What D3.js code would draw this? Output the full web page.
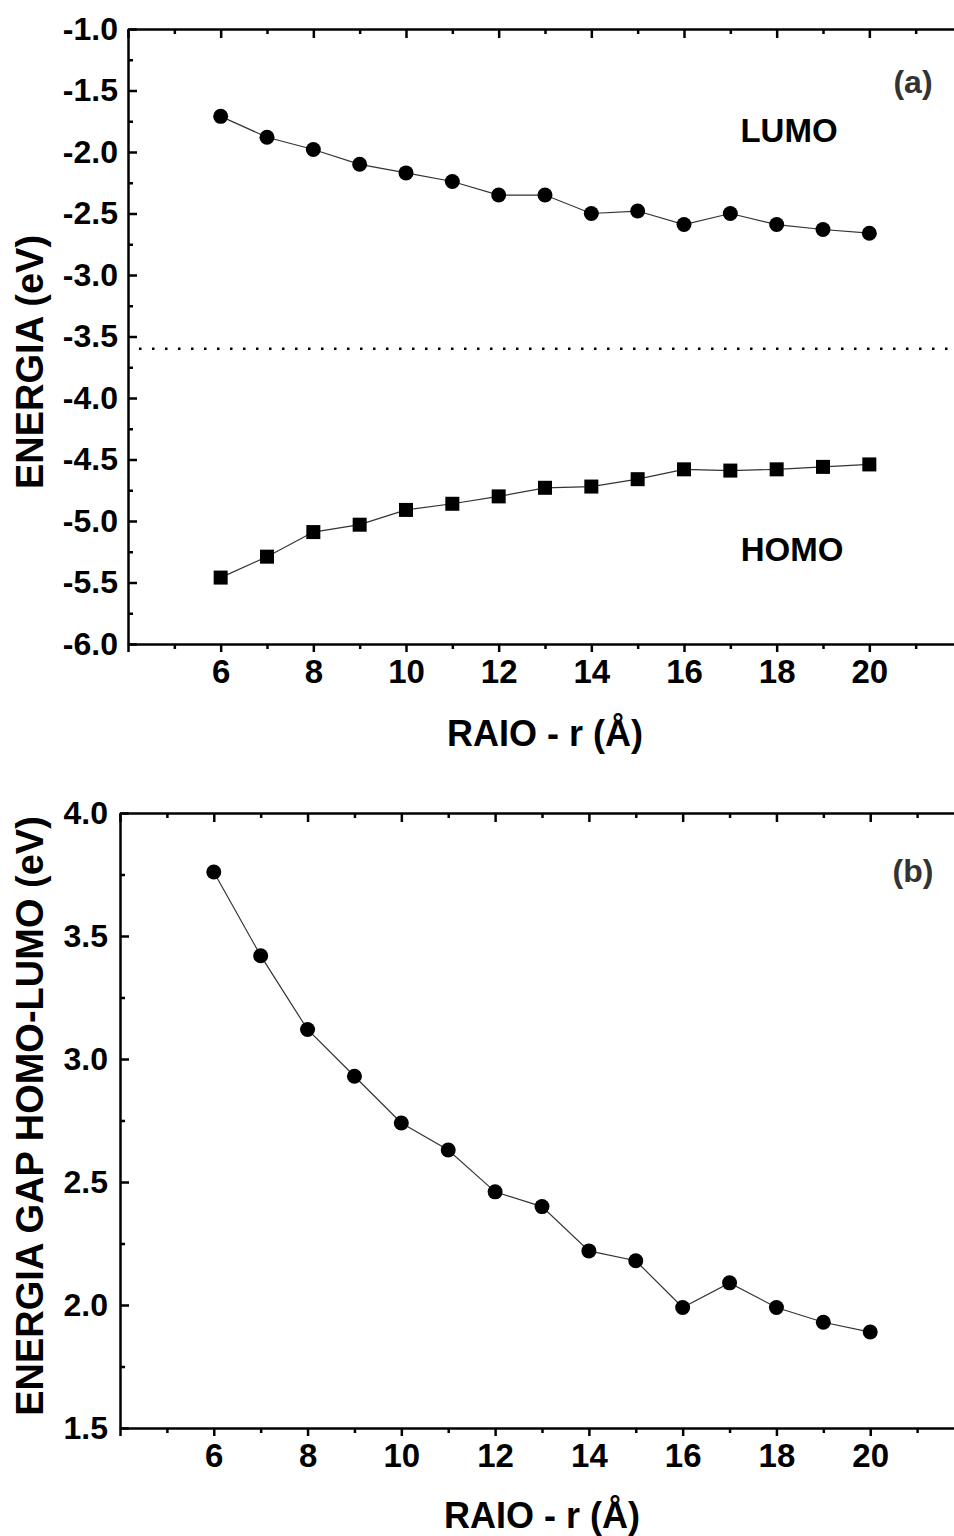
<!DOCTYPE html>
<html>
<head>
<meta charset="utf-8">
<script src="https://cdn.jsdelivr.net/npm/d3@7/dist/d3.min.js"></script>
<style>
  body { margin: 0; background: #fff; }
  svg { display: block; font-family: "Liberation Sans", Arial, sans-serif; font-weight: bold; }
  .axis path, .axis line { stroke: #000; stroke-width: 2.5; }
  .axis text { fill: #000; font-family: "Liberation Sans", Arial, sans-serif; font-weight: bold; }
</style>
</head>
<body>
<svg id="chart" width="954" height="1536"></svg>
<script>
// raio (Angstrom)
var radius = [6, 7, 8, 9, 10, 11, 12, 13, 14, 15, 16, 17, 18, 19, 20];
var lumo = [-1.71, -1.88, -1.98, -2.10, -2.17, -2.24, -2.35, -2.35, -2.50, -2.48, -2.59, -2.50, -2.59, -2.63, -2.66];
var homo = [-5.46, -5.29, -5.09, -5.03, -4.91, -4.86, -4.80, -4.73, -4.72, -4.66, -4.58, -4.59, -4.58, -4.56, -4.54];
var gap = [3.76, 3.42, 3.12, 2.93, 2.74, 2.63, 2.46, 2.40, 2.22, 2.18, 1.99, 2.09, 1.99, 1.93, 1.89];
var fermi = -3.6;

var xMajor = [4, 6, 8, 10, 12, 14, 16, 18, 20, 22];
var xMinor = [5, 7, 9, 11, 13, 15, 17, 19, 21];
var xLabels = [6, 8, 10, 12, 14, 16, 18, 20];
var yTicksA = [-1.0, -1.5, -2.0, -2.5, -3.0, -3.5, -4.0, -4.5, -5.0, -5.5, -6.0];
var yMinorA = [-1.25, -1.75, -2.25, -2.75, -3.25, -3.75, -4.25, -4.75, -5.25, -5.75];
var yTicksB = [1.5, 2.0, 2.5, 3.0, 3.5, 4.0];
var yMinorB = [1.75, 2.25, 2.75, 3.25, 3.75];

var svg = d3.select("#chart");

function panel(opt) {
  var x = d3.scaleLinear().domain([4, 22]).range([opt.left, opt.right]);
  var y = d3.scaleLinear().domain(opt.yDomain).range([opt.bottom, opt.top]);
  var g = svg.append("g");

  // bottom axis, outward ticks
  g.append("g").attr("class", "axis")
    .attr("transform", "translate(0," + opt.bottom + ")")
    .call(d3.axisBottom(x).tickValues(xMajor).tickSizeInner(8).tickSizeOuter(0).tickPadding(8)
      .tickFormat(function(d) { return xLabels.indexOf(d) >= 0 ? d : ""; }))
    .selectAll("text").attr("font-size", "33px");
  g.append("g").attr("class", "axis")
    .attr("transform", "translate(0," + opt.bottom + ")")
    .call(d3.axisBottom(x).tickValues(xMinor).tickSizeInner(5).tickSizeOuter(0).tickFormat(""))
    .select(".domain").remove();

  // top axis, inward ticks
  g.append("g").attr("class", "axis")
    .attr("transform", "translate(0," + opt.top + ")")
    .call(d3.axisTop(x).tickValues(xMajor).tickSizeInner(-9).tickSizeOuter(0).tickFormat(""));
  g.append("g").attr("class", "axis")
    .attr("transform", "translate(0," + opt.top + ")")
    .call(d3.axisTop(x).tickValues(xMinor).tickSizeInner(-5).tickSizeOuter(0).tickFormat(""))
    .select(".domain").remove();

  // left axis, inward ticks
  g.append("g").attr("class", "axis")
    .attr("transform", "translate(" + opt.left + ",0)")
    .call(d3.axisLeft(y).tickValues(opt.yTicks).tickSizeInner(-9).tickSizeOuter(0).tickPadding(opt.pad)
      .tickFormat(d3.format(".1f")))
    .selectAll("text").attr("font-size", "32px");
  g.append("g").attr("class", "axis")
    .attr("transform", "translate(" + opt.left + ",0)")
    .call(d3.axisLeft(y).tickValues(opt.yMinor).tickSizeInner(-5).tickSizeOuter(0).tickFormat(""))
    .select(".domain").remove();

  g.selectAll(".axis text").text(function() { return this.textContent.replace("\u2212", "-"); });

  // titles
  g.append("text")
    .attr("transform", "translate(43," + opt.yTitleY + ") rotate(-90)")
    .attr("text-anchor", "middle")
    .attr("font-size", "38px")
    .text(opt.yTitle);
  g.append("text")
    .attr("x", (opt.left + opt.right) / 2).attr("y", opt.xTitleY)
    .attr("text-anchor", "middle")
    .attr("font-size", "36px")
    .text("RAIO - r (\u00C5)");
  g.append("text")
    .attr("x", 913).attr("y", opt.tagY)
    .attr("text-anchor", "middle")
    .attr("font-size", "32px")
    .attr("fill", "#333")
    .text(opt.tag);

  return { x: x, y: y, g: g };
}

function series(p, values, shape) {
  var pts = radius.map(function(r, i) { return [r, values[i]]; });
  p.g.append("path")
    .datum(pts)
    .attr("fill", "none")
    .attr("stroke", "#333")
    .attr("stroke-width", 1.2)
    .attr("d", d3.line().x(function(d) { return p.x(d[0]); }).y(function(d) { return p.y(d[1]); }));
  if (shape == "circle") {
    p.g.selectAll(null).data(pts).enter().append("circle")
      .attr("cx", function(d) { return p.x(d[0]); })
      .attr("cy", function(d) { return p.y(d[1]); })
      .attr("r", 7.5)
      .attr("fill", "#000");
  } else {
    p.g.selectAll(null).data(pts).enter().append("rect")
      .attr("x", function(d) { return p.x(d[0]) - 7; })
      .attr("y", function(d) { return p.y(d[1]) - 7; })
      .attr("width", 14).attr("height", 14)
      .attr("fill", "#000");
  }
}

// (a) HOMO / LUMO
var pa = panel({
  left: 128, right: 962, top: 29, bottom: 644,
  yDomain: [-6, -1], yTicks: yTicksA, yMinor: yMinorA, pad: 10,
  yTitle: "ENERGIA (eV)", yTitleY: 362, xTitleY: 746, tag: "(a)", tagY: 93
});
pa.g.append("line")
  .attr("x1", 139).attr("x2", 954)
  .attr("y1", pa.y(fermi)).attr("y2", pa.y(fermi))
  .attr("stroke", "#000").attr("stroke-width", 2.5)
  .attr("stroke-dasharray", "2.5 10.5");
series(pa, lumo, "circle");
series(pa, homo, "square");
pa.g.append("text").attr("x", 789).attr("y", 142).attr("text-anchor", "middle")
  .attr("font-size", "33px").text("LUMO");
pa.g.append("text").attr("x", 792).attr("y", 561).attr("text-anchor", "middle")
  .attr("font-size", "33px").text("HOMO");

// (b) gap
var pb = panel({
  left: 120, right: 964, top: 813, bottom: 1428,
  yDomain: [1.5, 4], yTicks: yTicksB, yMinor: yMinorB, pad: 12,
  yTitle: "ENERGIA GAP HOMO-LUMO (eV)", yTitleY: 1116, xTitleY: 1528, tag: "(b)", tagY: 882
});
series(pb, gap, "circle");
</script>
</body>
</html>
